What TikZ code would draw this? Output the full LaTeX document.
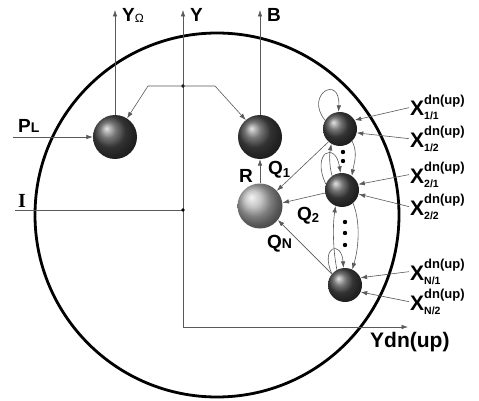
\documentclass[tikz,border=0pt]{standalone}
\usepackage{fontspec}
\setmainfont{Liberation Sans}
\newfontfamily\serifbold{Liberation Serif}
\usetikzlibrary{arrows.meta}
\newcommand{\fsz}[1]{\fontsize{#1}{#1}\selectfont}
\newcommand{\xlab}[1]{X\rlap{\raisebox{11.5pt}{\fsz{13}dn(up)}}\raisebox{-4pt}{\fsz{10.5}#1}}
\begin{document}
\begin{tikzpicture}[x=1pt,y=-1pt,
  ln/.style={draw=black!65, line width=0.6pt},
  arr/.style={ln, -{Latex[length=6.5pt,width=4.5pt]}},
  bigball/.style={circle, minimum size=44pt, inner sep=0pt, shading=ball, ball color=black!72},
  lightball/.style={circle, minimum size=45pt, inner sep=0pt, shading=ball, ball color=black!30},
  smallball/.style={circle, minimum size=34pt, inner sep=0pt, shading=ball, ball color=black!72},
  lab/.style={inner sep=0pt, anchor=base west, font=\fsz{19}\bfseries},
  xl/.style={inner sep=0pt, anchor=base west, font=\fsz{21}\bfseries}
]
\useasboundingbox (0,0) rectangle (479,401);
\fill[white] (0,0) rectangle (479,401);

% environment circle
\node[draw=black, circle, line width=2.8pt, minimum size=364pt, inner sep=0pt] (env) at (217,215) {};

% spheres
\node[bigball] (sL) at (115,137) {};
\node[bigball] (sB) at (260,137) {};
\node[lightball] (sR) at (260,206) {};
\node[smallball] (x1) at (340,129) {};
\node[smallball] (x2) at (342,190) {};
\node[smallball] (xn) at (345,285) {};

% axes
\coordinate (O) at (183,327);
\coordinate (Ytip) at (183,10);
\coordinate (Xtip) at (408,327);
\coordinate (J1) at (183,86);
\coordinate (J2) at (183,210);
\coordinate (Istart) at (15,210);
\coordinate (Pstart) at (13,137);
\draw[arr] (O) -- (Ytip);
\draw[arr] (O) -- (Xtip);
\draw[ln] (Istart) -- (J2);
\fill (J1) circle[radius=1.8pt];
\fill (J2) circle[radius=1.8pt];
\draw[arr] (J1) -- ++(-35,0) -- (sL.57);
\draw[arr] (J1) -- ++(32,0) -- (sB.130);
\draw[arr] (Pstart) -- (sL.west);
\draw[arr] (sL.north) -- (sL.north |- Ytip);
\draw[arr] (sB.north) -- (sB.north |- Ytip);
\draw[arr] (sR.north) -- (sB.south);

% Q arrows
\draw[arr] (x1.228) -- (sR.42);
\draw[arr] (x2.190) -- (sR.8);
\draw[arr] (xn.140) -- (sR.-38);

% loops
\draw[arr] (x1.150) .. controls +(-21,-26) and +(2,-38) .. (x1.95);
\draw[arr] (x2.160) .. controls +(-15,-32) and +(-5,-32) .. (x2.95);
\draw[arr] (xn.140) .. controls +(-12,-28) and +(-2,-28) .. (xn.95);

% links between X spheres
\draw[arr] (x1.-45) .. controls +(6,12) and +(2,-12) .. (x2.55);
\draw[arr] (x2.125) .. controls +(-3,-10) and +(-2,10) .. (x1.-120);
\draw[arr] (x2.-50) .. controls +(8,20) and +(6,-20) .. (xn.65);
\draw[arr] (xn.118) .. controls +(-4,-20) and +(-3,20) .. (x2.-112);

% dots
\foreach \yy/\xx in {152/343,161/343,222/345,233/345,245/345}
  \fill (\xx,\yy) circle[radius=2.2pt];

% labels
\node[lab] (lYO) at (122,22) {Y\raisebox{-1pt}{\fsz{12}\mdseries Ω}};
\node[lab] (lY) at (190,22) {Y};
\node[lab] (lB) at (267,22) {B};
\node[lab] (lPL) at (18,132) {P{\fsz{14}L}};
\node[lab, font=\fsz{20}\serifbold\bfseries] (lI) at (18,207) {I};
\node[lab] (lR) at (239,182) {R};
\node[lab] (lQ1) at (268,175) {Q\raisebox{-2pt}{\fsz{13}1}};
\node[lab] (lQ2) at (297,220) {Q\raisebox{-2pt}{\fsz{13}2}};
\node[lab] (lQN) at (267,248) {Q{\fsz{14}N}};
\node[lab, font=\fsz{21}\bfseries] (lYd) at (370,347) {Ydn(up)};

\node[xl] (lx11) at (410,116) {\xlab{1/1}};
\node[xl] (lx12) at (410,147) {\xlab{1/2}};
\node[xl] (lx21) at (410,183) {\xlab{2/1}};
\node[xl] (lx22) at (410,215) {\xlab{2/2}};
\node[xl] (lxn1) at (410,280) {\xlab{N/1}};
\node[xl] (lxn2) at (410,310) {\xlab{N/2}};

\draw[arr] ([xshift=-1pt]lx11.west) -- (x1.31);
\draw[arr] ([xshift=-1pt]lx12.west) -- (x1.-13);
\draw[arr] ([xshift=-1pt]lx21.west) -- (x2.19);
\draw[arr] ([xshift=-1pt]lx22.west) -- (x2.-14);
\draw[arr] ([xshift=-1pt]lxn1.west) -- (xn.25);
\draw[arr] ([xshift=-1pt]lxn2.west) -- (xn.-24);
\end{tikzpicture}
\end{document}
